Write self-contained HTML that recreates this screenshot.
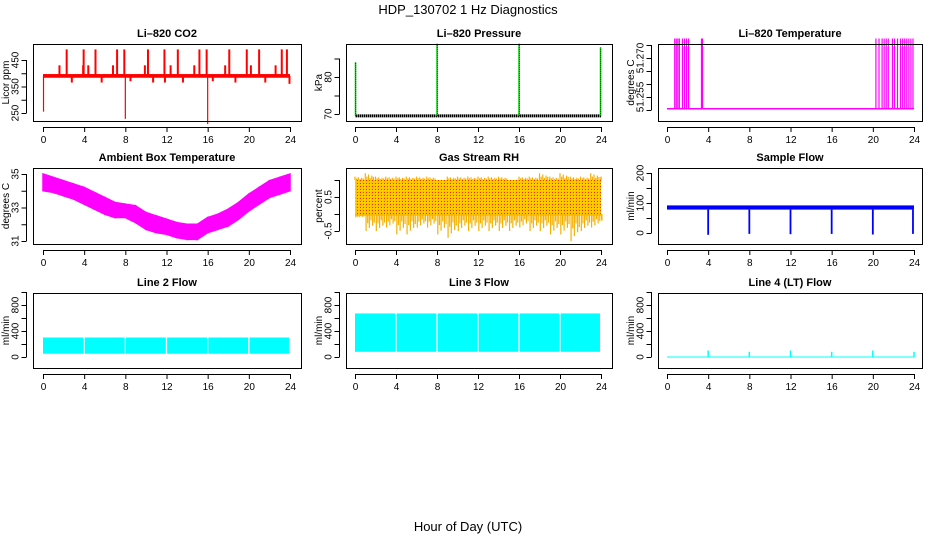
<!DOCTYPE html>
<html><head><meta charset="utf-8"><style>
body{margin:0;background:#fff}
svg{display:block;font-family:"Liberation Sans",Arial,sans-serif}
</style></head><body>
<svg id="c" width="936" height="540" viewBox="0 0 936 540">
<defs>
<pattern id="rhp" width="3" height="3" patternUnits="userSpaceOnUse"><rect width="3" height="3" fill="#ffc400"/><rect width="1" height="1" fill="#f03000"/><rect x="1" y="1" width="1" height="1" fill="#ffe000"/></pattern>
<pattern id="prp" width="2" height="1" patternUnits="userSpaceOnUse"><rect width="2" height="1" fill="#00e000"/><rect width="1" height="1" fill="#000"/></pattern>
</defs>
<text x="468" y="14" text-anchor="middle" font-size="13">HDP_130702  1 Hz Diagnostics</text>
<text x="468" y="531" text-anchor="middle" font-size="13">Hour of Day (UTC)</text>
</svg>
<script>
// ---- data ----
const xTicks=[0,4,8,12,16,20,24];
const co2Base=390;
const co2SpikeT=[1.6,2.3,2.8,3.9,3.95,4.4,5.1,5.7,6.8,7.2,7.9,8.5,9.9,10.2,10.7,11.8,11.85,12.4,13.1,13.6,14.7,15.2,15.9,16.5,17.7,18.1,18.7,19.8,20.2,21.0,21.6,22.6,23.2,23.7,23.95];
const co2SpikeV=[430,490,365,430,490,430,490,365,430,490,490,370,430,490,365,490,365,430,490,365,430,490,490,370,430,490,365,490,430,490,365,430,490,490,360];
const co2DipT=[0.05,8.0,16.0];
const co2DipV=[255,228,208];
const presBase=69.5;
const presSpikeT=[0.05,8.0,16.0,23.95];
const presSpikeV=[84,89,89,88];
const tempLow=51.2505;
const tempSpikeT=[0.75,0.9,1.05,1.2,1.5,1.7,1.9,2.1,3.35,3.45,20.3,20.6,20.9,21.1,21.3,21.5,21.9,22.1,22.4,22.7,22.9,23.1,23.3,23.5,23.7,23.9];
const tempHigh=51.2775;
const ambHours=[0,1,2,3,4,5,6,7,8,9,10,11,12,13,14,15,16,17,18,19,20,21,22,23,24];
const ambLow=[34.0,33.9,33.7,33.5,33.2,32.9,32.6,32.4,32.4,32.1,31.7,31.5,31.4,31.2,31.1,31.1,31.5,31.7,31.9,32.3,32.8,33.2,33.6,33.8,34.0];
const ambHigh=[35.0,34.8,34.6,34.4,34.2,33.9,33.6,33.3,33.2,33.1,32.7,32.5,32.3,32.1,32.0,32.0,32.4,32.6,32.9,33.3,33.8,34.2,34.6,34.8,35.0];
const rhHours=[0,1,2,3,4,5,6,7,8,9,10,11,12,13,14,15,16,17,18,19,20,21,22,23,24];
const rhLow=[-0.1,-0.5,-0.5,-0.4,-0.6,-0.6,-0.4,-0.4,-0.6,-0.7,-0.5,-0.5,-0.5,-0.5,-0.5,-0.5,-0.4,-0.5,-0.5,-0.6,-0.6,-0.8,-0.5,-0.4,-0.2];
const rhHigh=[1.1,1.2,1.1,1.1,1.1,1.1,1.1,1.1,1.0,1.1,1.1,1.1,1.1,1.1,1.1,1.0,1.1,1.1,1.2,1.1,1.2,1.1,1.1,1.2,1.1];
const sfLow=78, sfHigh=92;
const sfDipT=[4,8,12,16,20,23.9];
const sfDipV=[-6,-3,-4,-3,-5,-3];
const l2Low=50, l2High=300, l2GapT=[4,8,12,16,20];
const l3Low=80, l3High=670, l3GapT=[4,8,12,16,20];
const l4Base=0, l4SpikeT=[4,8,12,16,20,24], l4SpikeV=[100,80,100,80,100,80];
const tempTickLabels=["51.255","51.270"];

// ---- layout ----
const svg=document.getElementById('c');
const NS='http://www.w3.org/2000/svg';
function el(tag,at,parent){const e=document.createElementNS(NS,tag);for(const k in at)e.setAttribute(k,at[k]);(parent||svg).appendChild(e);return e;}
const cols=[{l:33,r:301,x0:43,x24:290},{l:346,r:612,x0:355,x24:601},{l:658,r:922,x0:667,x24:914}];
const rows=[{t:44,b:121},{t:168,b:244},{t:293,b:368}];

function panel(ci,ri,name,title,ylab,yTicks,yLabels,v0,p0,v1,p1,labelText){
  const c=cols[ci],r=rows[ri];
  const g=el('g',{});
  
  
  const sx=t=>c.x0+(c.x24-c.x0)*t/24;
  const sy=v=>p0+(p1-p0)*(v-v0)/(v1-v0);
  const t=el('text',{x:(c.l+c.r)/2,y:r.t-7,'text-anchor':'middle','font-size':11,'font-weight':'bold'},g);
  t.textContent=title;
  
  
  const plot=el('g',{},g);
  
  
  const box=el('rect',{x:c.l+.5,y:r.t+.5,width:c.r-c.l,height:r.b-r.t,fill:'none',stroke:'#000'},g);
  
  
  const xa=el('g',{},g);
  
  
  el('line',{x1:sx(0),x2:sx(24),y1:r.b+6.5,y2:r.b+6.5,stroke:'#000'},xa);
  xTicks.forEach(v=>{
    el('line',{x1:sx(v)+.5,x2:sx(v)+.5,y1:r.b+6,y2:r.b+11,stroke:'#000'},xa);
    const tx=el('text',{x:sx(v)+.5,y:r.b+22,'text-anchor':'middle','font-size':10},xa);tx.textContent=v;
  });
  const ya=el('g',{},g);
  
  
  const yx=c.l-6.5;
  el('line',{x1:yx,x2:yx,y1:sy(yTicks[0]),y2:sy(yTicks[yTicks.length-1]),stroke:'#000'},ya);
  yTicks.forEach(v=>{el('line',{x1:yx-5,x2:yx,y1:sy(v)+.5,y2:sy(v)+.5,stroke:'#000'},ya);});
  yLabels.forEach((v,i)=>{
    const y=sy(v), x=yx-8;
    const tx=el('text',{x:x,y:y,'text-anchor':'middle','font-size':10,transform:`rotate(-90 ${x} ${y})`},ya);
    tx.textContent=labelText?labelText[i]:v;
  });
  const yl=el('text',{x:c.l-24,y:(r.t+r.b)/2,'text-anchor':'middle','font-size':10,transform:`rotate(-90 ${c.l-24} ${(r.t+r.b)/2})`},g);
  yl.textContent=ylab;
  
  
  return {sx,sy,plot,r,c};
}
function vline(p,x,y1,y2,col,w){const ln=el('line',{x1:x,x2:x,y1:y1,y2:y2,stroke:col,'stroke-width':w||1.5},p.plot);

return ln;}

// CO2
let p=panel(0,0,'co2-panel','Li\u2013820 CO2','Licor ppm',[250,300,350,400,450],[250,350,450],250,113,450,60);
{const b=el('rect',{x:p.sx(0),y:p.sy(co2Base+7),width:p.sx(24)-p.sx(0),height:p.sy(co2Base-7)-p.sy(co2Base+7),fill:'#f00'},p.plot);

}
co2SpikeT.forEach((t,i)=>vline(p,p.sx(t),p.sy(co2Base),p.sy(co2SpikeV[i]),'#f00',2));
co2DipT.forEach((t,i)=>vline(p,p.sx(t),p.sy(co2Base),p.sy(co2DipV[i]),'#f00',1.2));

// Pressure
p=panel(1,0,'pressure-panel','Li\u2013820 Pressure','kPa',[70,75,80,85],[70,80],70,114,80,77);
{const b=el('rect',{x:p.sx(0),y:p.sy(presBase+0.4),width:p.sx(24)-p.sx(0),height:3,fill:'url(#prp)'},p.plot);

}
presSpikeT.forEach((t,i)=>vline(p,p.sx(t),p.sy(presBase),p.sy(presSpikeV[i]),'#00d000',1.5));
presSpikeT.forEach((t,i)=>{const l=vline(p,p.sx(t)+0.3,p.sy(presBase),p.sy(presSpikeV[i]),'#000',0.7);l.setAttribute('stroke-dasharray','1 1');});

// Temperature
p=panel(2,0,'temperature-panel','Li\u2013820 Temperature','degrees C',[51.250,51.255,51.260,51.265,51.270,51.275],[51.255,51.270],51.250,110,51.275,45,tempTickLabels);
{const b=el('line',{x1:p.sx(0),x2:p.sx(24),y1:p.sy(tempLow),y2:p.sy(tempLow),stroke:'#f0f','stroke-width':1.5},p.plot);

}
tempSpikeT.forEach(t=>vline(p,p.sx(t),p.sy(tempLow),p.sy(tempHigh),'#f0f',1.2));

// Ambient
p=panel(0,1,'ambient-panel','Ambient Box Temperature','degrees C',[31,32,33,34,35],[31,33,35],31,241,35,174);
ambHours.forEach((h,i)=>{if(i===ambHours.length-1)return;
  const x1=p.sx(h),x2=p.sx(ambHours[i+1]);
  const y1=p.sy(ambHigh[i]),y2=p.sy(ambHigh[i+1]),y3=p.sy(ambLow[i+1]),y4=p.sy(ambLow[i]);
  const pg=el('polygon',{points:`${x1},${y1} ${x2},${y2} ${x2},${y3} ${x1},${y4}`,fill:'#f0f',stroke:'#f0f','stroke-width':1.5},p.plot);
  
  
});

// RH
p=panel(1,1,'rh-panel','Gas Stream RH','percent',[-0.5,0,0.5,1.0],[-0.5,0.5],-0.5,231,0.5,197);
{const b=el('rect',{x:p.sx(0),y:p.sy(1.0),width:p.sx(24)-p.sx(0),height:p.sy(-0.05)-p.sy(1.0),fill:'url(#rhp)'},p.plot);

}
rhHours.forEach((h,i)=>{
  for(let k=0;k<6;k++){const t=Math.min(24,h+k*0.16);
    const frac=[1,0.5,0.8,0.3,0.65,0.45][k];
    vline(p,p.sx(t),p.sy(1.0),p.sy(1.0+(rhHigh[i]-1.0)*frac),'#f5b000',1.2);
    vline(p,p.sx(t+0.08),p.sy(0),p.sy(-0.05+(rhLow[i]+0.05)*frac),'#f5b000',1.2);
  }
});

// Sample flow
p=panel(2,1,'sample-flow-panel','Sample Flow','ml/min',[0,50,100,150,200],[0,100,200],0,233,100,203);
{const b=el('rect',{x:p.sx(0),y:p.sy(sfHigh),width:p.sx(24)-p.sx(0),height:p.sy(sfLow)-p.sy(sfHigh),fill:'#00f'},p.plot);

}
sfDipT.forEach((t,i)=>vline(p,p.sx(t),p.sy(sfLow),p.sy(sfDipV[i]),'#00f',1.8));

// Line flows
function flowBand(p,lo,hi,gaps,nm){
  const r=el('rect',{x:p.sx(0),y:p.sy(hi),width:p.sx(23.9)-p.sx(0),height:p.sy(lo)-p.sy(hi),fill:'#0ff'},p.plot);
  
  
  gaps.forEach(t=>vline(p,p.sx(t),p.sy(hi)-1,p.sy(lo)+1,'#fff',1.3));
}
p=panel(0,2,'line2-flow-panel','Line 2 Flow','ml/min',[0,200,400,600,800,1000],[0,400,800],0,357,400,331);
flowBand(p,l2Low,l2High,l2GapT,'line2-flow-band');
p=panel(1,2,'line3-flow-panel','Line 3 Flow','ml/min',[0,200,400,600,800,1000],[0,400,800],0,357,400,331);
flowBand(p,l3Low,l3High,l3GapT,'line3-flow-band');
p=panel(2,2,'line4-flow-panel','Line 4 (LT) Flow','ml/min',[0,200,400,600,800,1000],[0,400,800],0,357,400,331);
{const b=el('line',{x1:p.sx(0),x2:p.sx(24),y1:p.sy(l4Base),y2:p.sy(l4Base),stroke:'#0ff','stroke-width':1},p.plot);

}
l4SpikeT.forEach((t,i)=>vline(p,p.sx(t),p.sy(l4Base),p.sy(l4SpikeV[i]),'#0ff',1.5));
</script>
</body></html>
